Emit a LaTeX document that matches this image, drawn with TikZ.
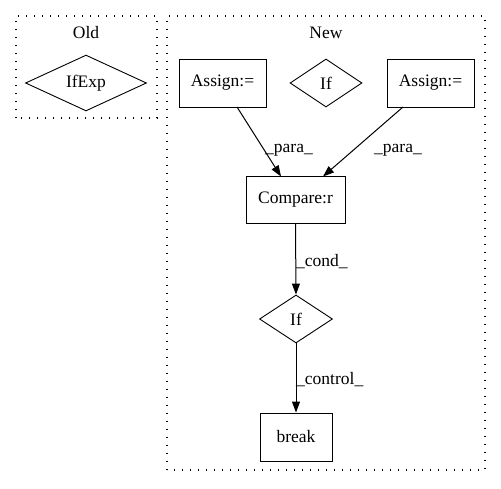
\documentclass[tikz,border=0pt]{standalone}
\usepackage{fontspec}
\setmainfont{Liberation Serif}
\usetikzlibrary{shapes.geometric,arrows.meta}
\begin{document}
\begin{tikzpicture}[x=1pt,y=1pt,
  every node/.style={font=\fontsize{17.5}{20}\selectfont},
  box/.style={draw,rectangle,inner sep=0pt,line width=0.9pt},
  dia/.style={draw,diamond,inner sep=0pt,line width=0.9pt},
  cluster/.style={draw,line width=1.2pt,dash pattern=on 1.2pt off 6.8pt},
  edge/.style={-{Triangle[length=11pt,width=8pt]},line width=1pt},
  lbl/.style={inner sep=0pt,anchor=west}]
\useasboundingbox (0,0) rectangle (501,488);
% clusters
\draw[cluster] (16,370) rectangle (157,472);
\draw[cluster] (167,18) rectangle (485,472);
\node (oldlbl) at (86,455) {Old};
\node (newlbl) at (326,455) {New};
% nodes
\node[dia,minimum width=121pt,minimum height=47pt] (ifexp) at (86,405) {IfExp};
\node[box,minimum width=87pt,minimum height=48pt] (a1) at (222.5,405) {Assign:=};
\node[dia,minimum width=72pt,minimum height=48pt] (if1) at (326,405) {If};
\node[box,minimum width=87pt,minimum height=48pt] (a2) at (430.5,405) {Assign:=};
\node[box,minimum width=99pt,minimum height=47pt] (cmp) at (295.5,288) {Compare:r};
\node[dia,minimum width=73pt,minimum height=48pt] (if2) at (296,169) {If};
\node[box,minimum width=72pt,minimum height=48pt] (brk) at (296,51) {break};
% edges
\coordinate (a1s) at (237,381);
\coordinate (a2s) at (403,381);
\coordinate (cmpl) at (281,311.5);
\coordinate (cmpr) at (323,311.5);
\draw[edge] (a1s) -- (cmpl);
\draw[edge] (a2s) -- (cmpr);
\draw[edge] (cmp.south) -- (if2.north);
\draw[edge] (if2.south) -- (brk.north);
% labels
\node[lbl] (l1) at (265,338) {\_para\_};
\node[lbl] (l2) at (374,338) {\_para\_};
\node[lbl] (l3) at (296,226) {\_cond\_};
\node[lbl] (l4) at (296,108) {\_control\_};
\end{tikzpicture}
\end{document}
